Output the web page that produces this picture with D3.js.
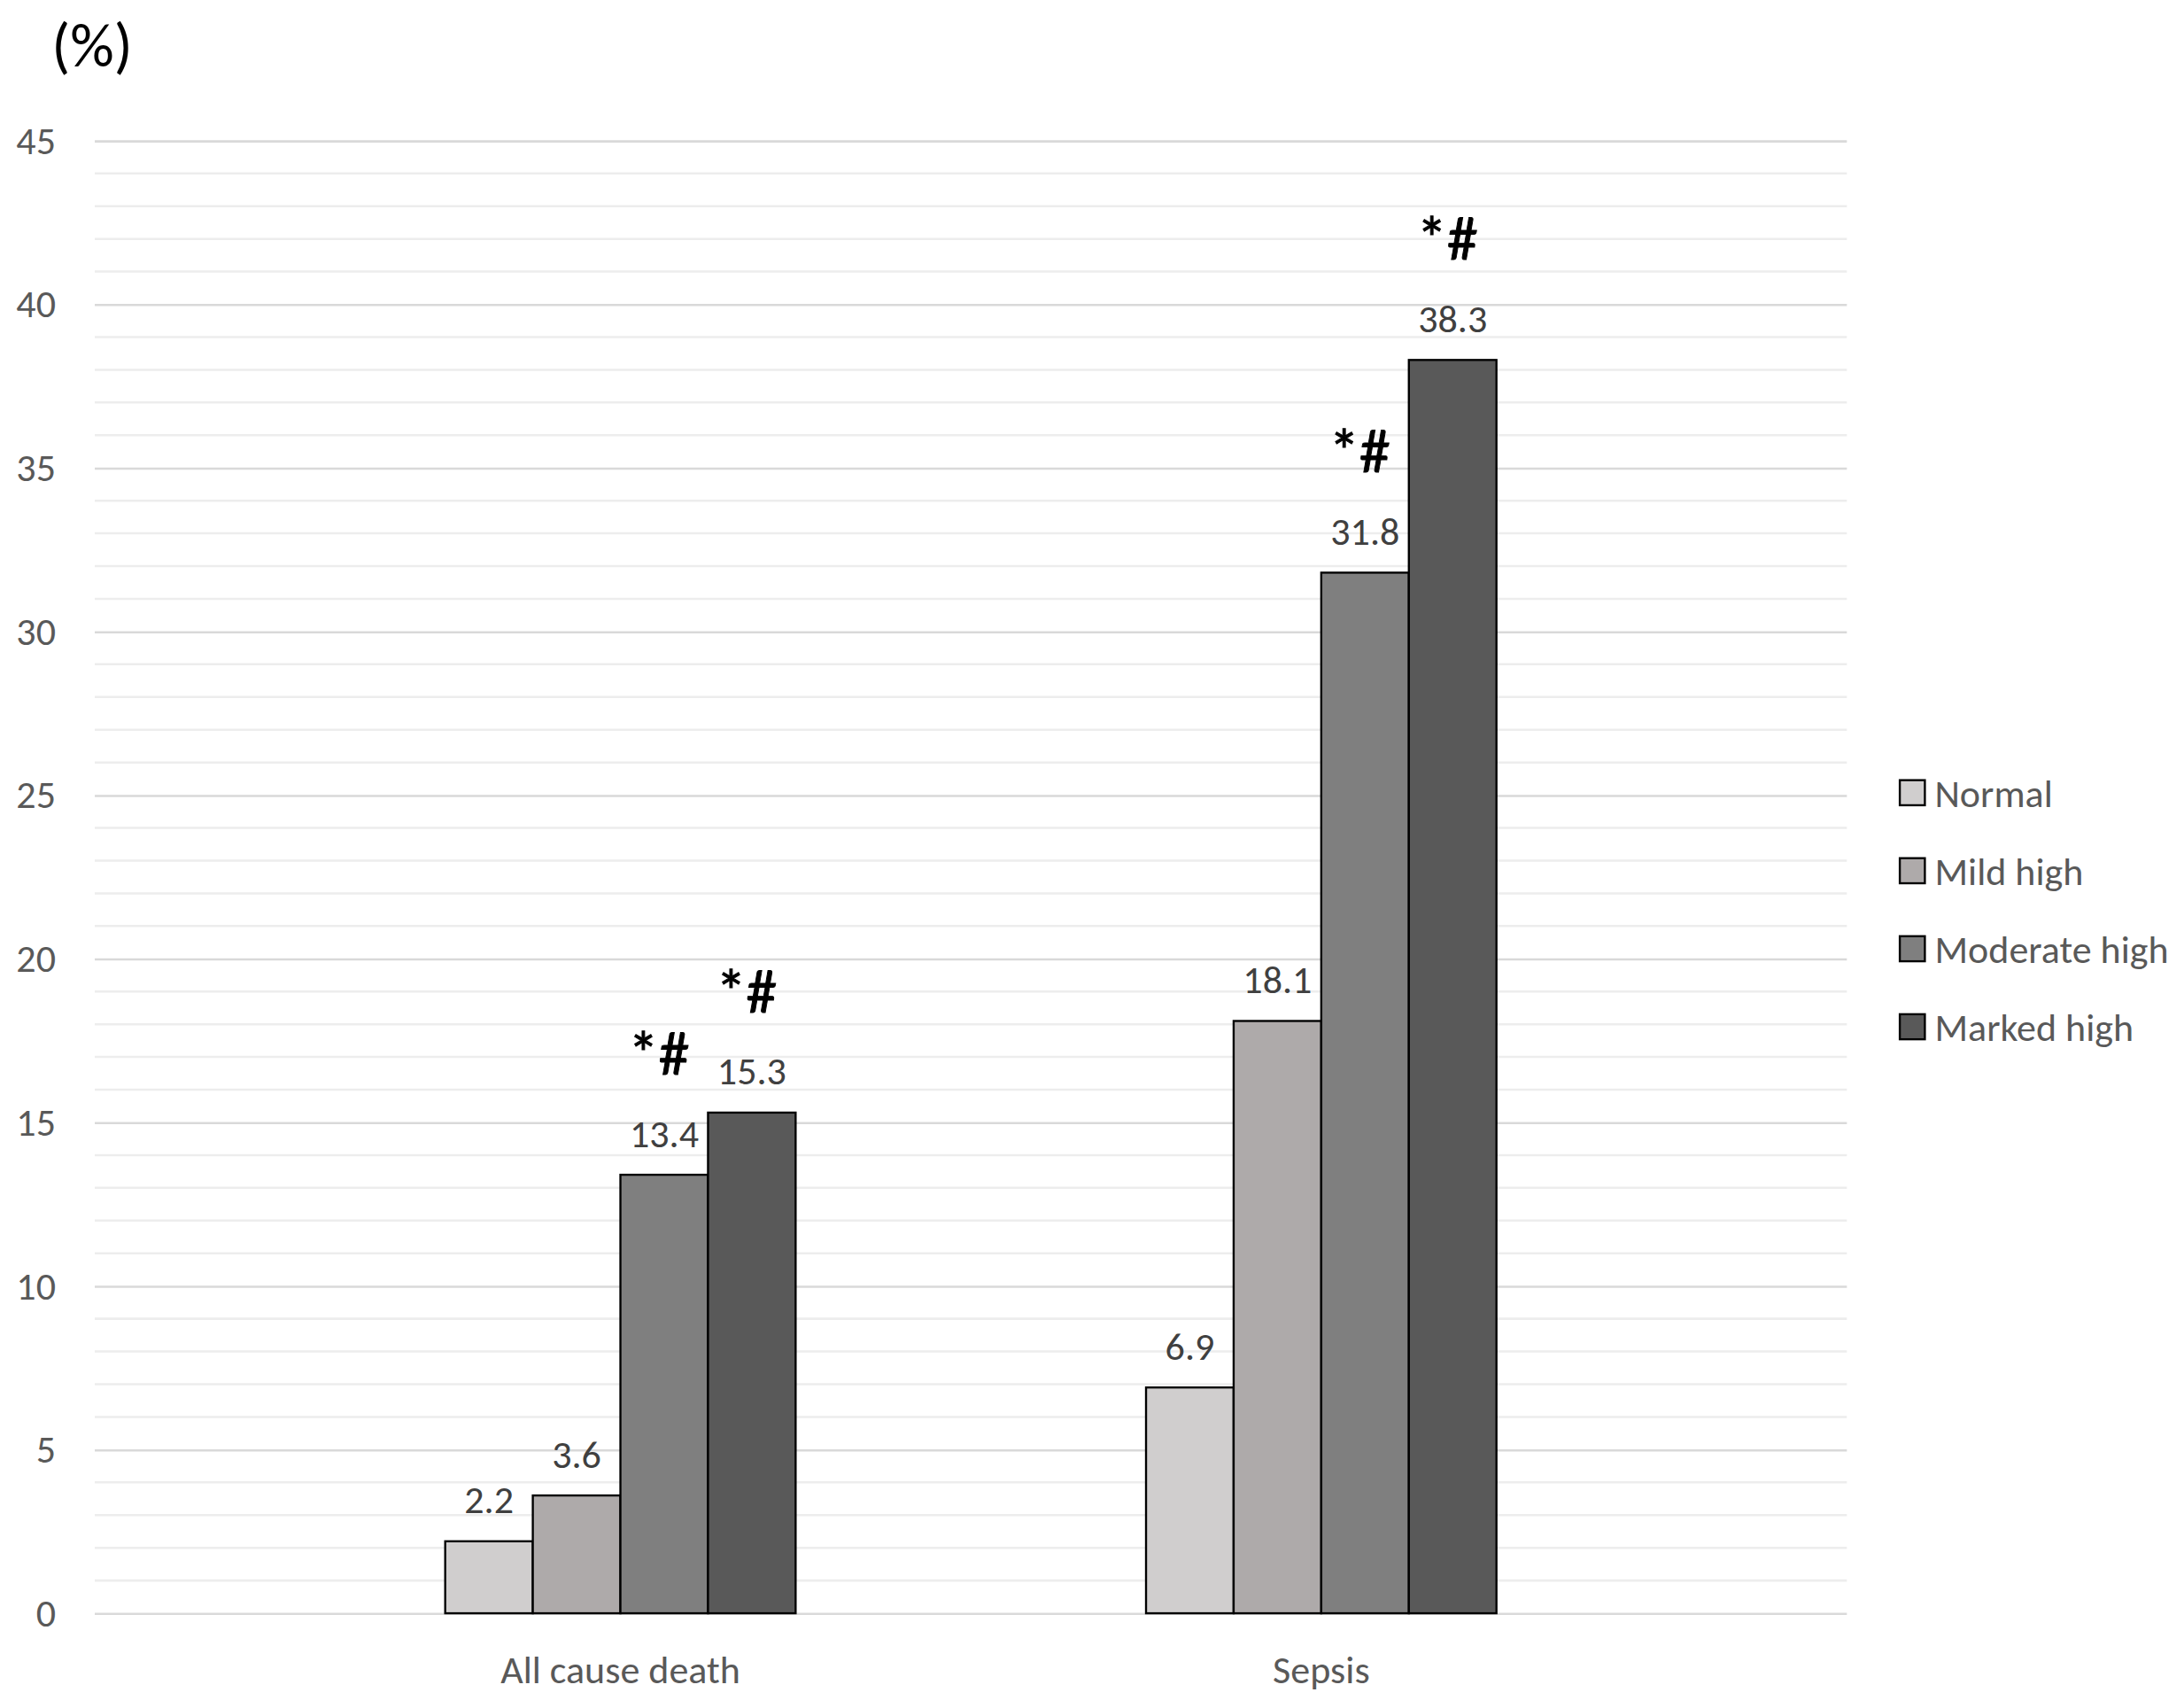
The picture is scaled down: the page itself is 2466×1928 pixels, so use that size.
<!DOCTYPE html>
<html>
<head>
<meta charset="utf-8">
<script src="https://cdn.jsdelivr.net/npm/d3@7"></script>
<style>
  body { margin: 0; background: #fff; }
  svg { display: block; }
  text { font-family: Carlito, "Liberation Sans Narrow", "Open Sans", sans-serif; }
</style>
</head>
<body>
<div id="chart"></div>
<script>
// outcome rates (%) by level
const categories = ['All cause death', 'Sepsis'];
const levels = ['Normal', 'Mild high', 'Moderate high', 'Marked high'];
const allCauseDeath = [2.2, 3.6, 13.4, 15.3];
const sepsis = [6.9, 18.1, 31.8, 38.3];
const yTicks = [0, 5, 10, 15, 20, 25, 30, 35, 40, 45];
const fills = ['#d0cece', '#aeaaaa', '#7f7f7f', '#595959'];
// levels marked with *# (significant)
const marked = ['Moderate high', 'Marked high'];

const seriesByCategory = [allCauseDeath, sepsis];

// drawing in a 1568 x 1226 coordinate space, scaled to the window
const W = 1568;
const H = 1226;
const margin = { top: 101, right: 242, bottom: 68, left: 68 };

const svg = d3
  .select('#chart')
  .append('svg')
  .attr('width', 2466)
  .attr('height', 1928)
  .attr('viewBox', `0 0 ${W} ${H}`);

const y = d3
  .scaleLinear()
  .domain([0, 45])
  .range([H - margin.bottom, margin.top]);

const x0 = d3
  .scaleBand()
  .domain(categories)
  .range([margin.left, W - margin.right])
  .padding(0.5);

const x1 = d3
  .scaleBand()
  .domain(levels)
  .range([0, x0.bandwidth()]);

// minor gridlines every 1 unit, major every 5
const minor = d3.range(0, 46).filter(d => d % 5 !== 0);
svg
  .append('g')
  .selectAll('line')
  .data(minor)
  .enter()
  .append('line')
  .attr('x1', margin.left)
  .attr('x2', W - margin.right)
  .attr('y1', d => y(d))
  .attr('y2', d => y(d))
  .attr('stroke', '#ededed')
  .attr('stroke-width', 1.6);

const yAxis = d3
  .axisLeft(y)
  .tickValues(yTicks)
  .tickSize(-(W - margin.left - margin.right))
  .tickPadding(28);

const gy = svg
  .append('g')
  .attr('transform', `translate(${margin.left}, 0)`)
  .call(yAxis);

gy.select('.domain').remove();
gy.selectAll('.tick line').attr('stroke', '#d9d9d9').attr('stroke-width', 1.6);
gy.selectAll('.tick text')
  .attr('fill', '#595959')
  .style('font-size', '28px');

// unit label
svg
  .append('text')
  .text('(%)')
  .attr('x', 37)
  .attr('y', 48)
  .attr('fill', '#000')
  .style('font-size', '44px');

// category labels
const xAxis = d3.axisBottom(x0).tickSize(0).tickPadding(30);
const gx = svg
  .append('g')
  .attr('transform', `translate(0, ${y(0)})`)
  .call(xAxis);
gx.select('.domain').remove();
gx.selectAll('.tick text')
  .attr('fill', '#595959')
  .style('font-size', '28px');

// bars
const groups = svg
  .append('g')
  .selectAll('g')
  .data(categories)
  .enter()
  .append('g')
  .attr('transform', d => `translate(${x0(d)}, 0)`);

const cells = groups
  .selectAll('g')
  .data((c, i) => levels.map((l, j) => ({ level: l, value: seriesByCategory[i][j], idx: j })))
  .enter()
  .append('g');

cells
  .append('rect')
  .attr('x', d => x1(d.level))
  .attr('y', d => y(d.value))
  .attr('width', x1.bandwidth())
  .attr('height', d => y(0) - y(d.value))
  .attr('fill', d => fills[d.idx])
  .attr('stroke', '#000')
  .attr('stroke-width', 1.5);

cells
  .append('text')
  .text(d => d.value.toFixed(1))
  .attr('x', d => x1(d.level) + x1.bandwidth() / 2)
  .attr('y', d => y(d.value) - 20)
  .attr('text-anchor', 'middle')
  .attr('fill', '#404040')
  .style('font-size', '28px');

cells
  .filter(d => marked.includes(d.level))
  .append('text')
  .text('*#')
  .attr('x', d => x1(d.level) + x1.bandwidth() / 2 - 4)
  .attr('y', d => y(d.value) - 72)
  .attr('text-anchor', 'middle')
  .attr('fill', '#000')
  .attr('stroke', '#000')
  .attr('stroke-width', 0.6)
  .style('font-size', '44px');

// legend
const legend = svg
  .append('g')
  .attr('transform', 'translate(1364, 560)')
  .selectAll('g')
  .data(levels)
  .enter()
  .append('g')
  .attr('transform', (d, i) => `translate(0, ${i * 56})`);

legend
  .append('rect')
  .attr('x', 0)
  .attr('y', 0)
  .attr('width', 18)
  .attr('height', 18)
  .attr('fill', (d, i) => fills[i])
  .attr('stroke', '#000')
  .attr('stroke-width', 1.5);

legend
  .append('text')
  .text(d => d)
  .attr('x', 25)
  .attr('y', 19)
  .attr('fill', '#595959')
  .style('font-size', '28px');
</script>
</body>
</html>
